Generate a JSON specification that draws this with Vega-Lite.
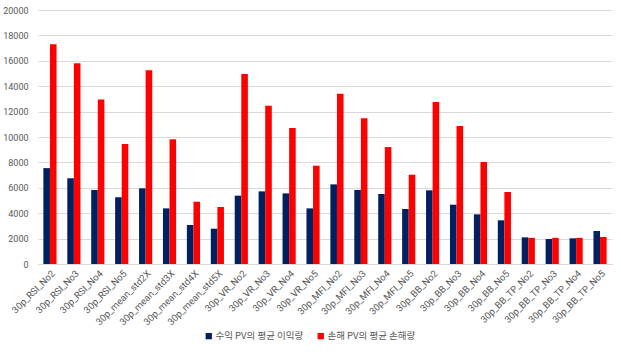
{
  "$schema": "https://vega.github.io/schema/vega-lite/v6.json",
  "width": 574,
  "height": 254,
  "autosize": {"type": "none"},
  "padding": {"left": 38, "top": 10, "right": 9, "bottom": 90},
  "background": "white",
  "data": {
    "values": [
      {"k": "30p_RSI_No2", "s": "수익 PV의 평균 이익량", "v": 7550},
      {"k": "30p_RSI_No2", "s": "손해 PV의 평균 손해량", "v": 17300},
      {"k": "30p_RSI_No3", "s": "수익 PV의 평균 이익량", "v": 6750},
      {"k": "30p_RSI_No3", "s": "손해 PV의 평균 손해량", "v": 15800},
      {"k": "30p_RSI_No4", "s": "수익 PV의 평균 이익량", "v": 5830},
      {"k": "30p_RSI_No4", "s": "손해 PV의 평균 손해량", "v": 12950},
      {"k": "30p_RSI_No5", "s": "수익 PV의 평균 이익량", "v": 5250},
      {"k": "30p_RSI_No5", "s": "손해 PV의 평균 손해량", "v": 9450},
      {"k": "30p_mean_std2X", "s": "수익 PV의 평균 이익량", "v": 5960},
      {"k": "30p_mean_std2X", "s": "손해 PV의 평균 손해량", "v": 15250},
      {"k": "30p_mean_std3X", "s": "수익 PV의 평균 이익량", "v": 4380},
      {"k": "30p_mean_std3X", "s": "손해 PV의 평균 손해량", "v": 9820},
      {"k": "30p_mean_std4X", "s": "수익 PV의 평균 이익량", "v": 3070},
      {"k": "30p_mean_std4X", "s": "손해 PV의 평균 손해량", "v": 4900},
      {"k": "30p_mean_std5X", "s": "수익 PV의 평균 이익량", "v": 2780},
      {"k": "30p_mean_std5X", "s": "손해 PV의 평균 손해량", "v": 4490},
      {"k": "30p_VR_No2", "s": "수익 PV의 평균 이익량", "v": 5380},
      {"k": "30p_VR_No2", "s": "손해 PV의 평균 손해량", "v": 14960},
      {"k": "30p_VR_No3", "s": "수익 PV의 평균 이익량", "v": 5720},
      {"k": "30p_VR_No3", "s": "손해 PV의 평균 손해량", "v": 12470},
      {"k": "30p_VR_No4", "s": "수익 PV의 평균 이익량", "v": 5560},
      {"k": "30p_VR_No4", "s": "손해 PV의 평균 손해량", "v": 10700},
      {"k": "30p_VR_No5", "s": "수익 PV의 평균 이익량", "v": 4380},
      {"k": "30p_VR_No5", "s": "손해 PV의 평균 손해량", "v": 7740},
      {"k": "30p_MFI_No2", "s": "수익 PV의 평균 이익량", "v": 6270},
      {"k": "30p_MFI_No2", "s": "손해 PV의 평균 손해량", "v": 13400},
      {"k": "30p_MFI_No3", "s": "수익 PV의 평균 이익량", "v": 5830},
      {"k": "30p_MFI_No3", "s": "손해 PV의 평균 손해량", "v": 11470},
      {"k": "30p_MFI_No4", "s": "수익 PV의 평균 이익량", "v": 5510},
      {"k": "30p_MFI_No4", "s": "손해 PV의 평균 손해량", "v": 9210},
      {"k": "30p_MFI_No5", "s": "수익 PV의 평균 이익량", "v": 4330},
      {"k": "30p_MFI_No5", "s": "손해 PV의 평균 손해량", "v": 7030},
      {"k": "30p_BB_No2", "s": "수익 PV의 평균 이익량", "v": 5800},
      {"k": "30p_BB_No2", "s": "손해 PV의 평균 손해량", "v": 12760},
      {"k": "30p_BB_No3", "s": "수익 PV의 평균 이익량", "v": 4670},
      {"k": "30p_BB_No3", "s": "손해 PV의 평균 손해량", "v": 10870},
      {"k": "30p_BB_No4", "s": "수익 PV의 평균 이익량", "v": 3910},
      {"k": "30p_BB_No4", "s": "손해 PV의 평균 손해량", "v": 8030},
      {"k": "30p_BB_No5", "s": "수익 PV의 평균 이익량", "v": 3440},
      {"k": "30p_BB_No5", "s": "손해 PV의 평균 손해량", "v": 5670},
      {"k": "30p_BB_TP_No2", "s": "수익 PV의 평균 이익량", "v": 2100},
      {"k": "30p_BB_TP_No2", "s": "손해 PV의 평균 손해량", "v": 2060},
      {"k": "30p_BB_TP_No3", "s": "수익 PV의 평균 이익량", "v": 1970},
      {"k": "30p_BB_TP_No3", "s": "손해 PV의 평균 손해량", "v": 2060},
      {"k": "30p_BB_TP_No4", "s": "수익 PV의 평균 이익량", "v": 2020},
      {"k": "30p_BB_TP_No4", "s": "손해 PV의 평균 손해량", "v": 2060},
      {"k": "30p_BB_TP_No5", "s": "수익 PV의 평균 이익량", "v": 2600},
      {"k": "30p_BB_TP_No5", "s": "손해 PV의 평균 손해량", "v": 2130}
    ]
  },
  "mark": {"type": "bar"},
  "encoding": {
    "x": {
      "field": "k",
      "type": "nominal",
      "sort": null,
      "scale": {"paddingInner": 0.45, "paddingOuter": 0.225},
      "axis": {
        "title": null,
        "labelAngle": -45,
        "labelFontSize": 9.5,
        "labelColor": "#595959",
        "labelFont": "Roboto",
        "ticks": false,
        "domainColor": "#d9d9d9",
        "labelPadding": 4
      }
    },
    "xOffset": {"field": "s", "type": "nominal", "sort": null},
    "y": {
      "field": "v",
      "type": "quantitative",
      "scale": {"domain": [0, 20000]},
      "axis": {
        "title": null,
        "values": [0, 2000, 4000, 6000, 8000, 10000, 12000, 14000, 16000, 18000, 20000],
        "format": "d",
        "labelFontSize": 9,
        "labelColor": "#595959",
        "labelFont": "Roboto",
        "ticks": false,
        "domain": false,
        "gridColor": "#d9d9d9",
        "labelPadding": 10
      }
    },
    "color": {
      "field": "s",
      "type": "nominal",
      "sort": null,
      "scale": {"range": ["#002060", "#ff0000"]},
      "legend": {
        "title": null,
        "orient": "none",
        "direction": "horizontal",
        "legendX": 166,
        "legendY": 321,
        "symbolType": "square",
        "symbolSize": 40,
        "labelFontSize": 9.5,
        "labelColor": "#595959",
        "labelFont": "Noto Sans CJK KR",
        "columnPadding": 12,
        "labelOffset": 2
      }
    }
  },
  "config": {"view": {"stroke": null}}
}
